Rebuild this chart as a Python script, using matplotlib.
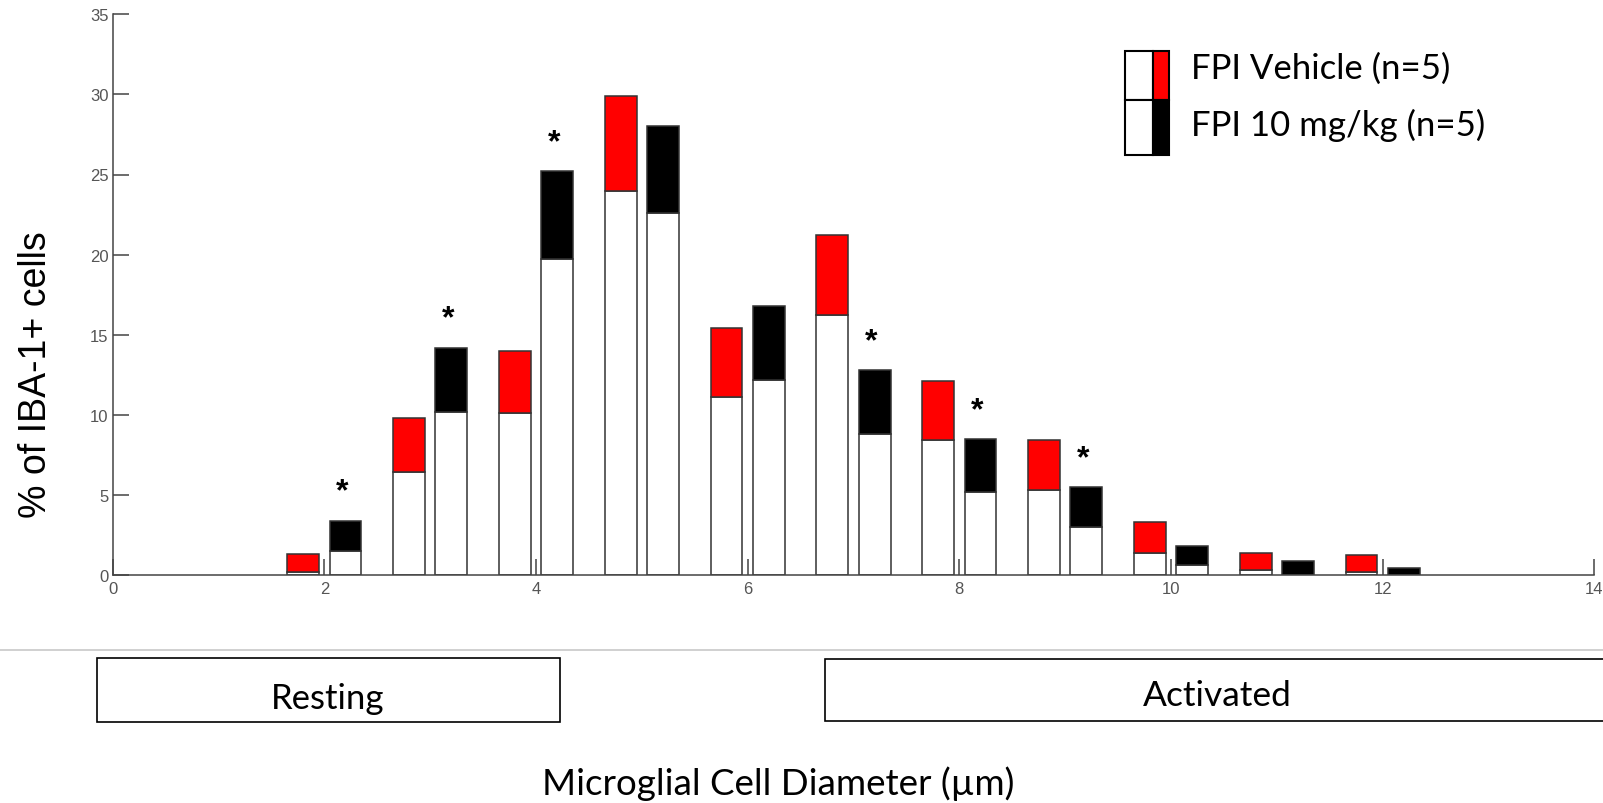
"""Microglial cell diameter histogram: FPI vehicle vs FPI 10 mg/kg."""

import matplotlib
matplotlib.use('Agg')
import matplotlib.pyplot as plt
from matplotlib.patches import Rectangle

RED = '#ff0000'
EDGE = '#333333'
AXIS = '#444444'
CAL = ['Lato', 'DejaVu Sans']
ARIAL = ['Liberation Sans', 'DejaVu Sans']

# bins (µm) and the two stacked levels of each bar
bins = [2, 3, 4, 5, 6, 7, 8, 9, 10, 11, 12]
vehicle_low = [0.2, 6.4, 10.1, 24.0, 11.1, 16.2, 8.4, 5.3, 1.4, 0.3, 0.2]
vehicle_high = [1.3, 9.8, 14.0, 29.9, 15.4, 21.2, 12.1, 8.4, 3.3, 1.35, 1.25]
drug_low = [1.5, 10.2, 19.7, 22.6, 12.2, 8.8, 5.2, 3.0, 0.6, 0.0, 0.0]
drug_high = [3.4, 14.2, 25.2, 28.0, 16.8, 12.8, 8.5, 5.5, 1.8, 0.85, 0.45]
sig_bins = [2, 3, 4, 7, 8, 9]

W, H = 1603, 804
fig = plt.figure(figsize=(W / 100, H / 100), dpi=100)
fig.patch.set_facecolor('white')

ax = fig.add_axes([112.7 / W, 1 - 576 / H, (1594.3 - 112.7) / W, (576 - 15.3) / H])
ax.set_xlim(0, 14)
ax.set_ylim(0, 35)

series = [(-0.2, vehicle_low, vehicle_high, RED),
          (0.2, drug_low, drug_high, 'black')]
for off, low, high, col in series:
    xs = [b + off for b in bins]
    ax.bar(xs, low, width=0.3, color='white', edgecolor=EDGE, linewidth=1.1, zorder=2)
    ax.bar(xs, [h - l for h, l in zip(high, low)], bottom=low, width=0.3,
           color=col, edgecolor=EDGE, linewidth=1.1, zorder=2)

for b in sig_bins:
    i = bins.index(b)
    ax.text(b + 0.17, drug_high[i] + 1.8, '*', fontsize=23, fontweight='bold',
            ha='center', va='center', color='black', family=ARIAL)

ax.set_xticks(range(0, 15, 2))
ax.set_yticks(range(0, 36, 5))
for s in ['top', 'right']:
    ax.spines[s].set_visible(False)
for s in ['left', 'bottom']:
    ax.spines[s].set_color(AXIS)
    ax.spines[s].set_linewidth(1.1)
ax.tick_params(direction='in', length=11.5, width=1.1, color=AXIS,
               labelcolor='#555555', labelsize=12)
ax.tick_params(axis='x', pad=4)
ax.tick_params(axis='y', pad=3)
for lab in ax.get_xticklabels() + ax.get_yticklabels():
    lab.set_family(ARIAL)

# overlay in pixel coordinates for legend, category boxes and labels
ov = fig.add_axes([0, 0, 1, 1], facecolor='none')
ov.set_xlim(0, W)
ov.set_ylim(H, 0)
ov.axis('off')

ov.text(36, 375, '% of IBA-1+ cells', rotation=90, fontsize=27,
        ha='center', va='center', color='black', family=ARIAL)

# legend
for y0, h, col in [(51.5, 49.5, RED), (101, 54.5, 'black')]:
    ov.add_patch(Rectangle((1125, y0), 28, h, facecolor='white',
                           edgecolor='black', linewidth=1.5))
    ov.add_patch(Rectangle((1153, y0), 16, h, facecolor=col,
                           edgecolor='black', linewidth=1.5))
ov.text(1191, 69, 'FPI Vehicle (n=5)', fontsize=25, ha='left', va='center',
        color='black', family=CAL)
ov.text(1191, 125, 'FPI 10 mg/kg (n=5)', fontsize=25, ha='left', va='center',
        color='black', family=CAL)

# separator and category boxes
ov.plot([0, W], [651, 651], color='#c8c8c8', linewidth=1.2)
ov.add_patch(Rectangle((97, 659), 463, 64, facecolor='white',
                       edgecolor='black', linewidth=1.2))
ov.add_patch(Rectangle((825, 660), 800, 62, facecolor='white',
                       edgecolor='black', linewidth=1.2))
ov.text(328, 699, 'Resting', fontsize=25, ha='center', va='center',
        color='black', family=CAL)
ov.text(1217, 696, 'Activated', fontsize=25.5, ha='center', va='center',
        color='black', family=CAL)
ov.text(778, 795, 'Microglial Cell Diameter (µm)', fontsize=26.5, ha='center',
        va='baseline', color='black', family=CAL)

fig.savefig('out.png', dpi=100, facecolor='white')
plt.close(fig)
